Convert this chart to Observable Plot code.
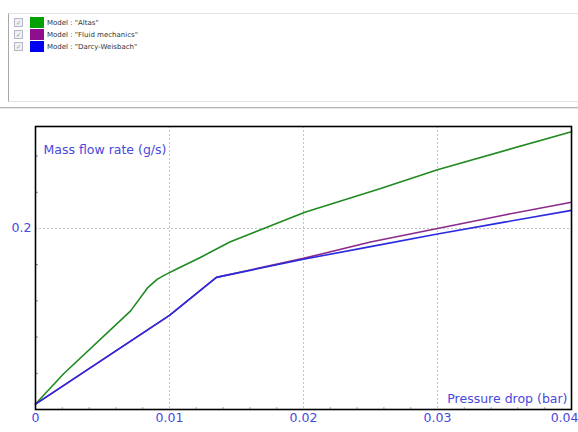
<!DOCTYPE html>
<html>
<head>
<meta charset="utf-8">
<script src="https://cdn.jsdelivr.net/npm/d3@7"></script>
<script src="https://cdn.jsdelivr.net/npm/@observablehq/plot@0.6"></script>
<style>
  html, body { margin: 0; padding: 0; background: #ffffff; width: 578px; height: 432px; overflow: hidden; }
  #legend { position: relative; width: 578px; height: 110px; font-family: "DejaVu Sans", sans-serif; }
  #panel { position: absolute; left: 8px; top: 13px; width: 569px; height: 87px; border-left: 1px solid #a8a8a8; border-top: 1px solid #e4e4e4; border-bottom: 1px solid #e4e4e4; }
  #sep { position: absolute; left: 0; top: 107px; width: 578px; height: 1px; background: #b4b4b4; }
  #sep2 { position: absolute; left: 0; top: 108px; width: 578px; height: 1px; background: #e8e8e8; }
  .row { position: absolute; left: 14px; height: 11px; display: flex; align-items: center; }
  .chk { width: 7px; height: 7px; border: 1px solid #b8b8c8; background: #eef0f4; margin-right: 7px; font-size: 6px; line-height: 7px; color: #8a8aa8; text-align: center; }
  .sw { width: 14px; height: 11px; margin-right: 3px; }
  .lab { font-size: 7px; color: #333; white-space: nowrap; }
  #chart { position: absolute; left: 0; top: 110px; }
</style>
</head>
<body>
<div id="legend">
  <div id="panel"></div>
  <div id="sep"></div>
  <div id="sep2"></div>
</div>
<div id="chart"></div>
<script>
// ---- data ----
const seriesNames = ['Model : "Altas"', 'Model : "Fluid mechanics"', 'Model : "Darcy-Weisbach"'];
const legendColors = ["#00a000", "#8e0e8e", "#0000f0"];
const lineColors = ["#1f8a1f", "#8a2a8a", "#2a2ae0"];

const altasX = [0, 0.0021, 0.0071, 0.0084, 0.0091, 0.0097, 0.0105, 0.0123, 0.0145, 0.0201, 0.0257, 0.0300, 0.0400];
const altasY = [0.006, 0.0395, 0.109, 0.135, 0.144, 0.149, 0.155, 0.168, 0.185, 0.218, 0.244, 0.265, 0.307];

const fluidX = [0, 0.0100, 0.0135, 0.0200, 0.0250, 0.0300, 0.0350, 0.0400];
const fluidY = [0.006, 0.104, 0.146, 0.167, 0.185, 0.200, 0.215, 0.229];

const darcyX = [0, 0.0100, 0.0135, 0.0200, 0.0250, 0.0300, 0.0350, 0.0400];
const darcyY = [0.006, 0.104, 0.146, 0.166, 0.180, 0.194, 0.207, 0.220];

const xTicks = [0, 0.01, 0.02, 0.03, 0.04];
const yTicks = [0.2];
const yMinorTicks = [0.04, 0.08, 0.12, 0.16, 0.24, 0.28];
const xMinorTicks = [0.002, 0.004, 0.006, 0.008, 0.012, 0.014, 0.016, 0.018, 0.022, 0.024, 0.026, 0.028, 0.032, 0.034, 0.036, 0.038];
const xTitle = "Pressure drop (bar)";
const yTitle = "Mass flow rate (g/s)";

// ---- legend ----
const legend = document.getElementById("legend");
seriesNames.forEach((name, i) => {
  const row = document.createElement("div");
  row.className = "row";
  row.style.top = (17 + i * 12) + "px";
  row.innerHTML = `<div class="chk">✓</div><div class="sw" style="background:${legendColors[i]}"></div><div class="lab"></div>`;
  row.querySelector(".lab").textContent = name;
  legend.appendChild(row);
});

// ---- table ----
const xs = [altasX, fluidX, darcyX];
const ys = [altasY, fluidY, darcyY];
const data = [];
seriesNames.forEach((name, i) => {
  xs[i].forEach((x, j) => data.push({series: name, x, y: ys[i][j]}));
});

const txtColor = "#4848dc";
const W = 578, H = 322;
const fmt = d => d === 0 ? "0" : String(d);

const chart = Plot.plot({
  width: W,
  height: H,
  marginLeft: 35,
  marginRight: 7,
  marginTop: 16,
  marginBottom: 23,
  style: {fontFamily: "DejaVu Sans, sans-serif", fontSize: "12px", background: "white"},
  x: {domain: [0, 0.04], label: null},
  y: {domain: [0, 0.3127], label: null},
  color: {domain: seriesNames, range: lineColors},
  marks: [
    Plot.gridX(xTicks.slice(1, -1), {stroke: "#c4c4c4", strokeOpacity: 1, strokeDasharray: "2,2"}),
    Plot.gridY(yTicks, {stroke: "#c4c4c4", strokeOpacity: 1, strokeDasharray: "2,2"}),
    Plot.axisY(yMinorTicks, {tickSize: -3, tickFormat: () => "", stroke: "#888"}),
    Plot.axisX(xMinorTicks, {tickSize: -2, tickFormat: () => "", stroke: "#aaa"}),
    Plot.line(data, {x: "x", y: "y", z: "series", stroke: "series", strokeWidth: 1.6, curve: "linear"}),
    Plot.frame({stroke: "black", strokeWidth: 1.6}),
    Plot.axisX(xTicks.slice(0, -1), {tickSize: 0, tickPadding: 4, tickFormat: fmt, fill: txtColor, fontSize: 12.5}),
    Plot.axisX(xTicks.slice(-1), {tickSize: 0, tickPadding: 4, tickFormat: fmt, fill: txtColor, fontSize: 12.5, textAnchor: "end", dx: 7}),
    Plot.axisY(yTicks, {tickSize: 0, tickPadding: 4, tickFormat: fmt, fill: txtColor, fontSize: 12.5}),
    Plot.text([yTitle], {frameAnchor: "top-left", dx: 8, dy: 19, text: d => d, fill: txtColor, fontSize: 12.5, textAnchor: "start"}),
    Plot.text([xTitle], {frameAnchor: "bottom-right", dx: -4, dy: -7, text: d => d, fill: txtColor, fontSize: 12.5, textAnchor: "end"})
  ]
});
document.getElementById("chart").appendChild(chart);
</script>
</body>
</html>
